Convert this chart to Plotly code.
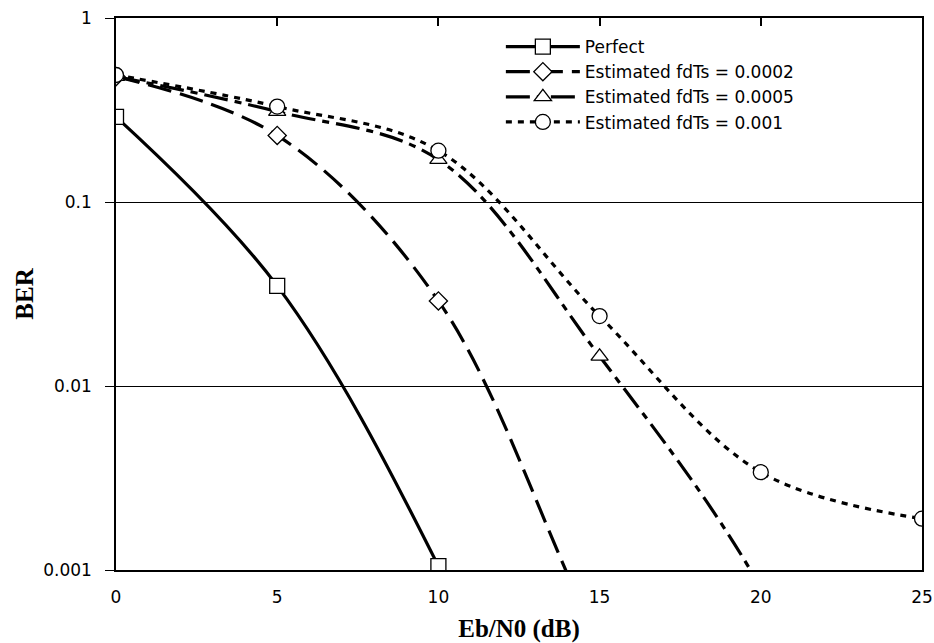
import plotly.graph_objects as go

# ---- data ----
ebn0 = [0, 5, 10, 15, 20, 25]
perfect = [0.29, 0.035, 0.00105, 0.00001]
est_0002 = [0.48, 0.23, 0.029, 0.0004, 0.00001]
est_0005 = [0.48, 0.31, 0.17, 0.0145, 0.0008, 0.00001]
est_001 = [0.49, 0.33, 0.19, 0.024, 0.0034, 0.0019]

series_names = ["Perfect", "Estimated fdTs = 0.0002", "Estimated fdTs = 0.0005", "Estimated fdTs = 0.001"]
y_tickvals = [0.001, 0.01, 0.1, 1]
y_ticktext = ["0.001", "0.01", "0.1", "1"]
x_tickvals = [0, 5, 10, 15, 20, 25]

series = [perfect, est_0002, est_0005, est_001]
symbols = ["square", "diamond", "triangle-up", "circle"]
dashes = ["solid", "24px,9px", "24px,7px,7px,7px", "6px,6px"]
msizes = [15, 14, 15, 15]

fig = go.Figure()
for name, vals, sym, dash, ms in zip(series_names, series, symbols, dashes, msizes):
    fig.add_trace(go.Scatter(
        x=ebn0[:len(vals)], y=vals, name=name, mode="lines+markers",
        line=dict(color="black", width=3.2, dash=dash, shape="spline", smoothing=1.0),
        marker=dict(symbol=sym, size=ms, color="white", line=dict(color="black", width=1.3)),
        cliponaxis=True,
    ))

# transparent trace so that the top tick axis is drawn
fig.add_trace(go.Scatter(x=[0, 25], y=[0.5, 0.5], xaxis="x2", yaxis="y", mode="lines",
                         line=dict(color="rgba(0,0,0,0)"), showlegend=False, hoverinfo="skip"))

tick_font = dict(family="DejaVu Sans", size=17, color="black")
title_font = dict(family="Liberation Serif", size=25, color="black")

fig.update_layout(
    width=934, height=643,
    margin=dict(l=116, r=12, t=18, b=73),
    paper_bgcolor="white", plot_bgcolor="white",
    showlegend=True,
    legend=dict(x=0.4775, y=0.98, xanchor="left", yanchor="top",
                font=dict(family="DejaVu Sans", size=17, color="black"),
                bgcolor="rgba(0,0,0,0)", borderwidth=0, tracegroupgap=0,
                itemwidth=74),
    xaxis=dict(range=[0, 25], tickvals=x_tickvals, ticks="", showgrid=False,
               showline=True, linecolor="black", linewidth=1.5, mirror=True,
               tickfont=tick_font, zeroline=False, automargin=False,
               ticklabelstandoff=11,
               title=dict(text="<b>Eb/N0 (dB)</b>", font=title_font, standoff=13)),
    xaxis2=dict(range=[0, 25], tickmode="array", tickvals=x_tickvals, ticktext=[""] * len(x_tickvals),
                overlaying="x", side="top", anchor="y",
                ticks="inside", ticklen=8, tickwidth=1.5, tickcolor="black",
                showticklabels=True, showgrid=False, showline=True, linecolor="black",
                linewidth=1.5, zeroline=False, automargin=False, layer="above traces"),
    yaxis=dict(type="log", range=[-3, 0], tickvals=y_tickvals, ticktext=y_ticktext,
               ticks="outside", ticklen=9, tickwidth=1.3, tickcolor="black",
               showgrid=True, gridcolor="black", gridwidth=1,
               showline=True, linecolor="black", linewidth=1.5, mirror=True,
               tickfont=tick_font, zeroline=False, automargin=False,
               ticklabelstandoff=10,
               title=dict(text="<b>BER</b>", font=title_font, standoff=2)),
)

fig.write_html("out.html", post_script="document.body.style.margin='0';",
               config={"displayModeBar": False})
